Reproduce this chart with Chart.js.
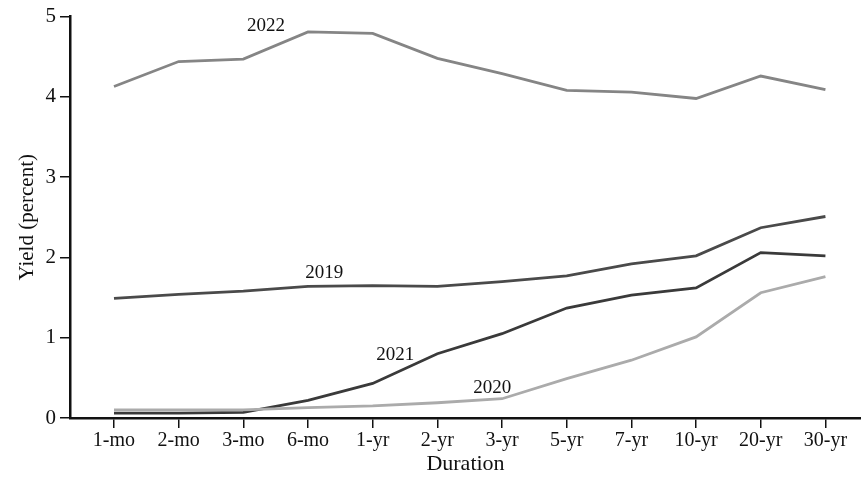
<!DOCTYPE html>
<html>
<head>
<meta charset="utf-8">
<script src="https://cdn.jsdelivr.net/npm/chart.js@4.4.1/dist/chart.umd.min.js"></script>
<style>
  html, body { margin: 0; padding: 0; background: #fff; }
  #wrap { width: 861px; height: 477px; }
</style>
</head>
<body>
<div id="wrap"><canvas id="yieldChart" width="861" height="477"></canvas></div>
<script>
// durations on the x axis
const durations = ['1-mo', '2-mo', '3-mo', '6-mo', '1-yr', '2-yr', '3-yr', '5-yr', '7-yr', '10-yr', '20-yr', '30-yr'];
const yTicks = [0, 1, 2, 3, 4, 5];

// yields (percent)
const y2019 = [1.49, 1.54, 1.58, 1.64, 1.65, 1.64, 1.70, 1.77, 1.92, 2.02, 2.37, 2.51];
const y2020 = [0.10, 0.10, 0.10, 0.13, 0.15, 0.19, 0.24, 0.49, 0.72, 1.01, 1.56, 1.76];
const y2021 = [0.06, 0.06, 0.07, 0.22, 0.43, 0.80, 1.05, 1.37, 1.53, 1.62, 2.06, 2.02];
const y2022 = [4.13, 4.44, 4.47, 4.81, 4.79, 4.48, 4.29, 4.08, 4.06, 3.98, 4.26, 4.09];

const serif = "'Liberation Serif', 'DejaVu Serif', serif";

function toPoints(arr) {
    return arr.map((v, i) => ({ x: i, y: v }));
}

// year labels written next to each curve
const curveLabels = [
    { text: '2022', x: 2.35, y: 4.88 },
    { text: '2019', x: 3.25, y: 1.81 },
    { text: '2021', x: 4.35, y: 0.78 },
    { text: '2020', x: 5.85, y: 0.37 }
];

const labelPlugin = {
    id: 'curveLabels',
    afterDatasetsDraw(chart) {
        const ctx = chart.ctx;
        const xs = chart.scales.x, ys = chart.scales.y;
        ctx.save();
        ctx.font = '19px ' + serif;
        ctx.fillStyle = '#111';
        ctx.textAlign = 'center';
        ctx.textBaseline = 'middle';
        curveLabels.forEach(l => {
            ctx.fillText(l.text, xs.getPixelForValue(l.x), ys.getPixelForValue(l.y));
        });
        ctx.restore();
    }
};

const ctx = document.getElementById('yieldChart').getContext('2d');
const yieldChart = new Chart(ctx, {
    type: 'line',
    data: {
        datasets: [
            { label: '2022', data: toPoints(y2022), borderColor: '#858585', borderWidth: 2.8 },
            { label: '2019', data: toPoints(y2019), borderColor: '#4a4a4a', borderWidth: 2.8 },
            { label: '2020', data: toPoints(y2020), borderColor: '#ababab', borderWidth: 2.8 },
            { label: '2021', data: toPoints(y2021), borderColor: '#3a3a3a', borderWidth: 2.8 }
        ]
    },
    options: {
        responsive: false,
        animation: false,
        events: [],
        layout: { padding: { top: 15, right: 0, left: 0, bottom: 0 } },
        elements: { point: { radius: 0 }, line: { tension: 0 } },
        plugins: { legend: { display: false }, tooltip: { enabled: false } },
        scales: {
            x: {
                type: 'linear',
                min: -0.68,
                max: 11.55,
                afterBuildTicks(scale) {
                    scale.ticks = durations.map((d, i) => ({ value: i }));
                },
                afterFit(scale) { scale.height = 59; },
                ticks: {
                    callback: (v) => durations[v],
                    color: '#111',
                    font: { family: serif, size: 20 },
                    padding: 1,
                    maxRotation: 0,
                    autoSkip: false
                },
                grid: { drawOnChartArea: false, drawTicks: true, tickLength: 10, color: '#111', lineWidth: 1.5 },
                border: { display: true, color: '#111', width: 2.5 },
                title: { display: true, text: 'Duration', color: '#111', font: { family: serif, size: 22 }, padding: { top: 0, bottom: 0 } }
            },
            y: {
                min: 0,
                max: 5,
                afterBuildTicks(scale) {
                    scale.ticks = yTicks.map(v => ({ value: v }));
                },
                afterFit(scale) { scale.width = 70; },
                ticks: {
                    color: '#111',
                    font: { family: serif, size: 21 },
                    padding: 4
                },
                grid: { drawOnChartArea: false, drawTicks: true, tickLength: 10, color: '#111', lineWidth: 1.5 },
                border: { display: true, color: '#111', width: 2.5 },
                title: { display: true, text: 'Yield (percent)', color: '#111', font: { family: serif, size: 21 }, padding: { top: 15, bottom: 0 } }
            }
        }
    },
    plugins: [labelPlugin]
});
</script>
</body>
</html>
